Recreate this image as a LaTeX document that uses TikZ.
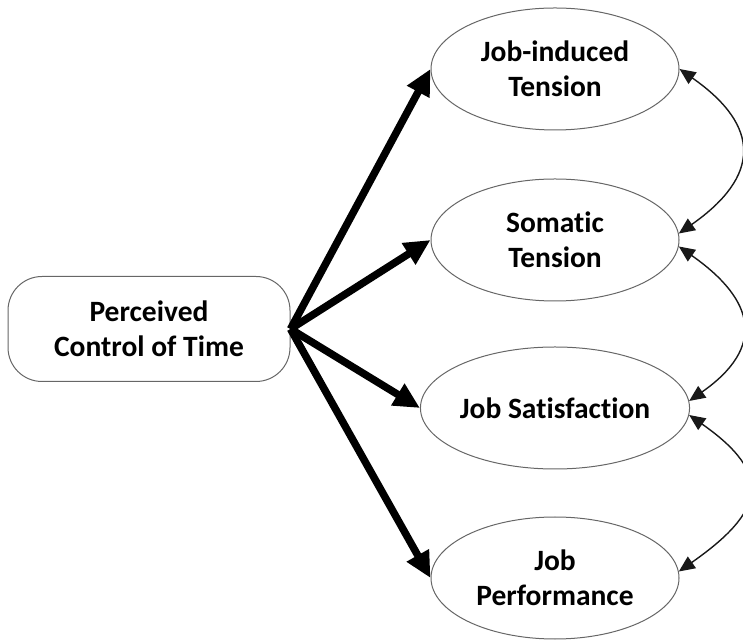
\documentclass[tikz,border=0pt]{standalone}
\usepackage{fontspec}
\setmainfont{Carlito}[Ligatures={NoCommon}]
\usetikzlibrary{arrows.meta,shapes.geometric}
\begin{document}
\begin{tikzpicture}[x=1pt,y=1pt,
  lbl/.style={font=\fontsize{29.5}{35}\selectfont\bfseries, align=center, text=black},
  oval/.style={ellipse, draw=black!60, line width=1pt, minimum width=248pt, minimum height=122pt, inner sep=0pt, lbl},
  boxnode/.style={rectangle, rounded corners=34pt, draw=black!60, line width=1pt, minimum width=282pt, minimum height=105pt, inner sep=0pt, lbl},
  thick arrow/.style={line width=7.5pt, -{Triangle[length=26pt,width=24pt]}},
  corr/.style={line width=1.4pt, {Triangle[length=16pt,width=14pt]}-{Triangle[length=16pt,width=14pt]}, black!90}
]
\useasboundingbox (0,0) rectangle (743,639);
\node[boxnode] (PC) at (149,310) {Perceived\\Control of Time};
\node[oval] (JI) at (555,570) {Job-induced\\Tension};
\node[oval] (ST) at (555,399) {Somatic\\Tension};
\node[oval] (JS) at (555,231) {Job Satisfaction};
\node[oval] (JP) at (555,61) {Job\\Performance};
\coordinate (src) at (PC.east);
\draw[thick arrow] (src) -- (JI.west);
\draw[thick arrow] (src) -- (ST.west);
\draw[thick arrow] (src) -- (JS.west);
\draw[thick arrow] (src) -- (JP.west);
\draw[corr] (JI.east) to[out=-35,in=35,looseness=1.55] (ST.3);
\draw[corr] (ST.-3) to[out=-35,in=35,looseness=1.55] (JS.3);
\draw[corr] (JS.-3) to[out=-35,in=35,looseness=1.7] (JP.3);
\end{tikzpicture}
\end{document}
